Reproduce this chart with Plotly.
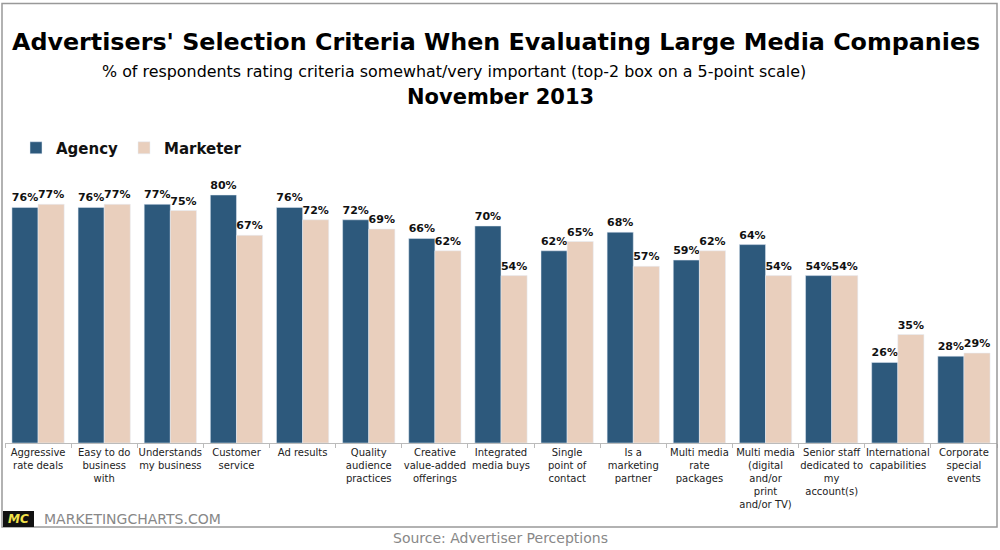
import plotly.graph_objects as go

categories = [
    "Aggressive<br>rate deals",
    "Easy to do<br>business<br>with",
    "Understands<br>my business",
    "Customer<br>service",
    "Ad results",
    "Quality<br>audience<br>practices",
    "Creative<br>value-added<br>offerings",
    "Integrated<br>media buys",
    "Single<br>point of<br>contact",
    "Is a<br>marketing<br>partner",
    "Multi media<br>rate<br>packages",
    "Multi media<br>(digital<br>and/or<br>print<br>and/or TV)",
    "Senior staff<br>dedicated to<br>my<br>account(s)",
    "International<br>capabilities",
    "Corporate<br>special<br>events",
]
agency = [76, 76, 77, 80, 76, 72, 66, 70, 62, 68, 59, 64, 54, 26, 28]
marketer = [77, 77, 75, 67, 72, 69, 62, 54, 65, 57, 62, 54, 54, 35, 29]

AGENCY_COLOR = "#2D597C"
MARKETER_COLOR = "#E9CFBD"
TITLE_FONT = "DejaVu Sans"

# plot area in pixels
L, R, T, B = 5, 3, 164, 107
W, H = 1000, 550
pw = W - L - R
ph = H - T - B
def px(x):
    return (x - L) / pw
def py(y):
    return (H - B - y) / ph

fig = go.Figure()
for name, vals, col, leg in [("Agency", agency, AGENCY_COLOR, "legend"),
                             ("Marketer", marketer, MARKETER_COLOR, "legend2")]:
    fig.add_trace(go.Bar(
        name=name, x=categories, y=vals, marker_color=col, legend=leg,
        text=[f"{v}%" for v in vals], textposition="outside",
        textfont=dict(family="DejaVu Sans", size=11, color="#111111", weight="bold"),
        cliponaxis=False, constraintext="none", hoverinfo="skip",
    ))

legend_style = dict(orientation="h", xanchor="left", yanchor="middle", y=py(148),
                    font=dict(family="DejaVu Sans", size=15, color="#111111", weight="bold"),
                    itemwidth=30, bgcolor="rgba(0,0,0,0)")

fig.update_layout(
    width=W, height=H, barmode="group", bargap=0.21, bargroupgap=0,
    margin=dict(l=L, r=R, t=T, b=B, pad=0),
    paper_bgcolor="white", plot_bgcolor="white",
    font=dict(family="DejaVu Sans", color="#222222"),
    showlegend=True,
    legend=dict(x=px(16), **legend_style),
    legend2=dict(x=px(124), **legend_style),
    xaxis=dict(tickson="boundaries", ticks="outside", ticklen=4, tickcolor="#BBBBBB",
               showline=True, linecolor="#BBBBBB", linewidth=1, tickangle=0,
               tickfont=dict(family="DejaVu Sans", size=10, color="#222222"),
               showgrid=False, fixedrange=True),
    yaxis=dict(range=[0, 90], visible=False, showgrid=False, fixedrange=True),
)

# outer frame
fig.add_shape(type="rect", xref="paper", yref="paper",
              x0=px(2), x1=px(997), y0=py(527), y1=py(3.5),
              line=dict(color="#999999", width=1.5), fillcolor="rgba(0,0,0,0)", layer="above")

# titles
fig.add_annotation(xref="paper", yref="paper", x=px(496), y=py(42), xanchor="center", yanchor="middle",
                   text="<b>Advertisers' Selection Criteria When Evaluating Large Media Companies</b>",
                   showarrow=False, font=dict(family=TITLE_FONT, size=23.8, color="#000000"))
fig.add_annotation(xref="paper", yref="paper", x=px(454), y=py(71), xanchor="center", yanchor="middle",
                   text="% of respondents rating criteria somewhat/very important (top-2 box on a 5-point scale)",
                   showarrow=False, font=dict(family=TITLE_FONT, size=15.9, color="#000000"))
fig.add_annotation(xref="paper", yref="paper", x=px(500), y=py(97), xanchor="center", yanchor="middle",
                   text="<b>November 2013</b>",
                   showarrow=False, font=dict(family=TITLE_FONT, size=21, color="#000000"))

# MC logo and site name
fig.add_shape(type="rect", xref="paper", yref="paper",
              x0=px(3), x1=px(34), y0=py(527), y1=py(511),
              line=dict(color="#000000", width=0), fillcolor="#111111")
fig.add_annotation(xref="paper", yref="paper", x=px(18.5), y=py(519), xanchor="center", yanchor="middle",
                   text="<b><i>MC</i></b>", showarrow=False,
                   font=dict(family="DejaVu Sans", size=12, color="#F2E24A"))
fig.add_annotation(xref="paper", yref="paper", x=px(42), y=py(519), xanchor="left", yanchor="middle",
                   text="MARKETINGCHARTS.COM", showarrow=False,
                   font=dict(family="DejaVu Sans", size=14, color="#888888"))
fig.add_annotation(xref="paper", yref="paper", x=px(500), y=py(538), xanchor="center", yanchor="middle",
                   text="Source: Advertiser Perceptions", showarrow=False,
                   font=dict(family="DejaVu Sans", size=14, color="#888888"))

fig.write_html("out.html", config={"displayModeBar": False},
               post_script="document.body.style.margin='0';document.body.style.overflow='hidden';")
